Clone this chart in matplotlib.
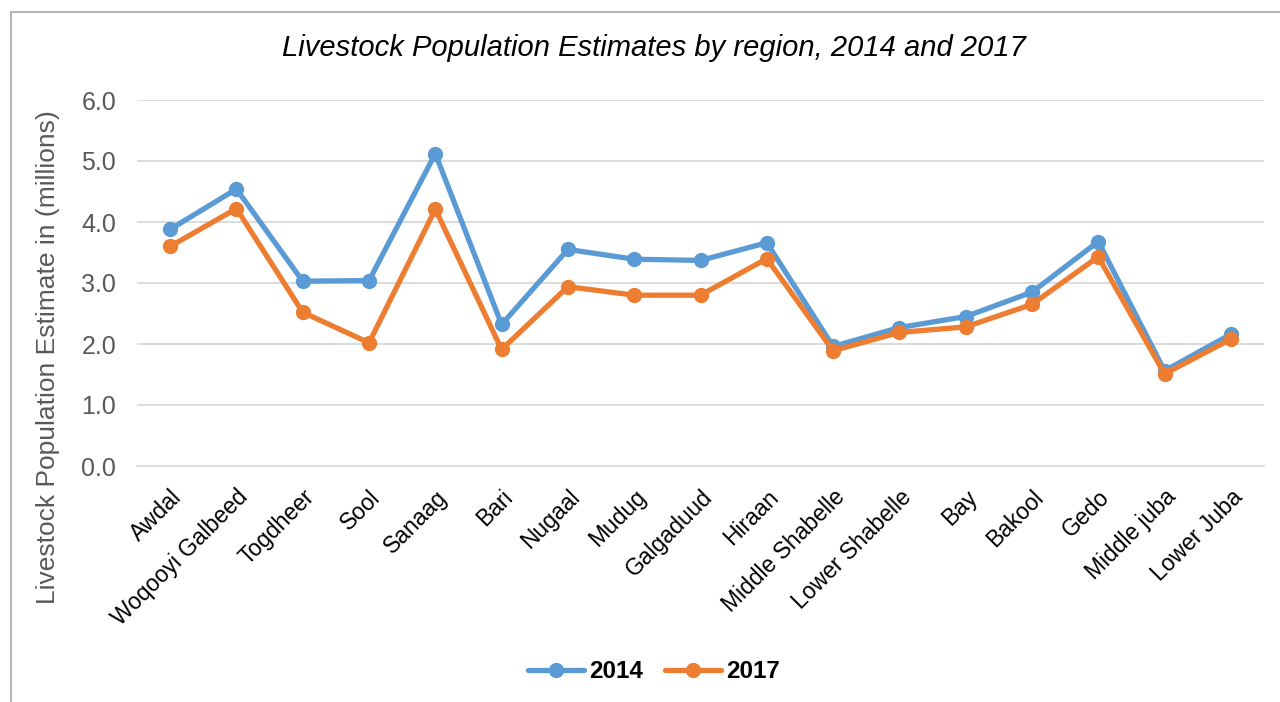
import matplotlib
matplotlib.use("Agg")
import matplotlib.pyplot as plt
import matplotlib.transforms as mtransforms
from matplotlib.patches import Rectangle

regions = ["Awdal", "Woqooyi Galbeed", "Togdheer", "Sool", "Sanaag", "Bari", "Nugaal",
           "Mudug", "Galgaduud", "Hiraan", "Middle Shabelle", "Lower Shabelle", "Bay",
           "Bakool", "Gedo", "Middle juba", "Lower Juba"]
pop_2014 = [3.88, 4.54, 3.03, 3.04, 5.12, 2.32, 3.55, 3.39, 3.37, 3.66, 1.96, 2.27,
            2.45, 2.85, 3.68, 1.56, 2.16]
pop_2017 = [3.60, 4.22, 2.52, 2.02, 4.21, 1.91, 2.94, 2.80, 2.80, 3.40, 1.89, 2.19,
            2.28, 2.65, 3.43, 1.51, 2.08]
yticks = [0.0, 1.0, 2.0, 3.0, 4.0, 5.0, 6.0]

plt.rcParams['font.family'] = ['Liberation Sans', 'DejaVu Sans']

fig = plt.figure(figsize=(12.8, 7.02), dpi=100)
W, H = 1280, 702
ax = fig.add_axes([137 / W, 1 - 466 / H, (1264 - 137) / W, (466 - 100) / H])

x = list(range(len(regions)))
ax.plot(x, pop_2014, color='#5B9BD5', lw=3.8, marker='o', ms=10, label='2014',
        solid_capstyle='round', zorder=3)
ax.plot(x, pop_2017, color='#ED7D31', lw=3.8, marker='o', ms=10, label='2017',
        solid_capstyle='round', zorder=3)

ax.set_xlim(-0.5, len(regions) - 0.5)
ax.set_ylim(0, 6)
ax.set_yticks(yticks)
ax.set_yticklabels([f"{v:.1f}" for v in yticks], color='#595959', fontsize=18)
ax.yaxis.grid(True, color='#D9D9D9', lw=1.3)
ax.set_axisbelow(True)
for s in ['top', 'right', 'left']:
    ax.spines[s].set_visible(False)
ax.spines['bottom'].set_color('#D9D9D9')
ax.spines['bottom'].set_linewidth(1.3)
ax.tick_params(axis='both', length=0)
ax.tick_params(axis='y', pad=15)

ax.set_xticks(x)
ax.set_xticklabels(regions, rotation=45, ha='right', rotation_mode='anchor',
                   fontsize=16.5, color='black')
offset = mtransforms.ScaledTranslation(1 / 100, 0, fig.dpi_scale_trans)
for lbl in ax.get_xticklabels():
    lbl.set_transform(lbl.get_transform() + offset)
ax.tick_params(axis='x', pad=14)

ax.set_ylabel("Livestock Population Estimate in (millions)", color='#595959', fontsize=19)
ax.yaxis.set_label_coords(-(137 - 60) / (1264 - 137), (466 - 357) / (466 - 100))

fig.text(654 / W, 1 - 48 / H, "Livestock Population Estimates by region, 2014 and 2017",
         ha='center', va='center', fontsize=21, style='italic', color='black')

leg = fig.legend(loc='center', bbox_to_anchor=(654 / W, 1 - 672 / H), ncol=2, frameon=False,
                 prop={'weight': 'bold', 'size': 17.5}, handlelength=2.3, columnspacing=0.9,
                 handletextpad=0.2)

fig.patches.append(Rectangle((11 / W, -0.1), 1.2, 1 - 12 / H + 0.1, transform=fig.transFigure,
                             fill=False, edgecolor='#A6A6A6', lw=1.2))

fig.savefig("out.png", dpi=100)
